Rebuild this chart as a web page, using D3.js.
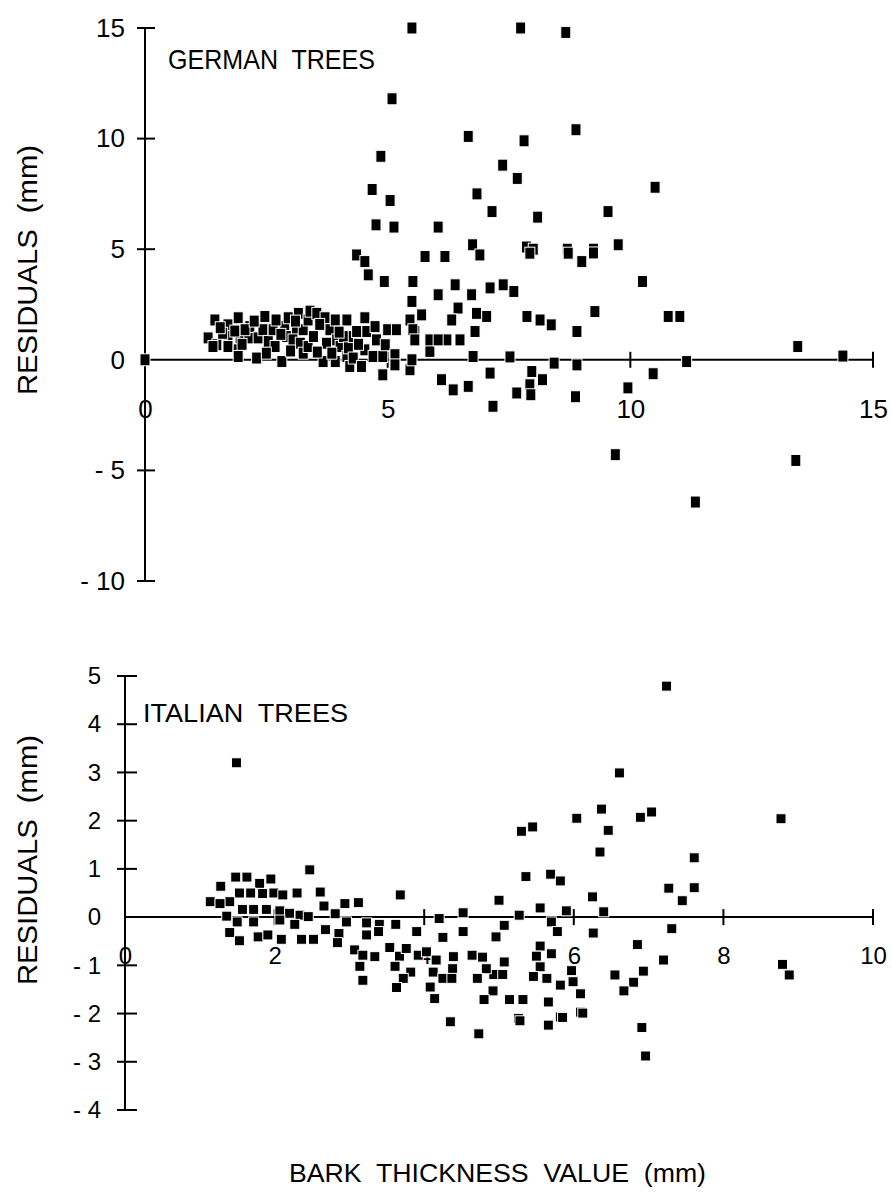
<!DOCTYPE html>
<html><head><meta charset="utf-8">
<script src="https://cdn.jsdelivr.net/npm/d3@7"></script>
<style>body{margin:0;background:#fff}</style>
</head><body>
<svg id="c" width="892" height="1195"></svg>
<script>
// ---------- DATA ----------
const germanPoints = [
  [0,0],
  [5.5,15.0],[7.74,15.0],[8.67,14.8],[5.09,11.8],[6.66,10.1],[7.81,9.9],[8.88,10.4],[4.86,9.2],[7.37,8.8],[7.67,8.2],
  [4.68,7.7],[5.05,7.2],[6.84,7.5],[10.51,7.8],[7.15,6.7],[9.54,6.7],[8.09,6.45],[4.76,6.1],[5.13,6.0],[6.04,6.0],
  [6.75,5.2],[7.86,5.1],[8.0,5.0],[8.7,5.0],[9.24,5.0],[9.75,5.2],
  [4.36,4.74],[4.53,4.44],[4.6,3.84],[4.93,3.54],[5.52,3.54],[5.77,4.67],[6.18,4.67],[6.9,4.74],[7.93,4.82],[8.72,4.82],[9.0,4.44],[9.24,4.83],
  [6.04,2.94],[6.39,3.39],[6.73,2.94],[7.11,3.25],[7.38,3.39],[7.6,3.09],[5.5,2.64],[5.7,2.03],[5.46,1.8],[6.45,2.34],[6.32,1.8],
  [6.83,2.1],[7.04,1.96],[6.8,1.28],[5.56,1.28],[6.22,0.9],[6.49,0.9],[5.87,0.38],[6.76,0.15],
  [7.87,1.96],[8.14,1.8],[8.37,1.58],[8.9,1.28],[9.27,2.18],[10.25,3.54],[10.78,1.96],[11.02,1.96],
  [7.52,0.13],[8.43,-0.15],[8.9,-0.23],[11.16,-0.08],[13.45,0.6],[14.38,0.17],
  [7.11,-0.6],[4.9,-0.68],[5.46,-0.45],[6.11,-0.9],[6.35,-1.36],[6.66,-1.2],[7.17,-2.1],[7.97,-0.53],[8.19,-0.9],[7.93,-1.13],
  [10.47,-0.63],[7.66,-1.5],[7.95,-1.58],[8.87,-1.67],[9.95,-1.27],[9.69,-4.29],[13.41,-4.55],[11.34,-6.43],
  [1.44,1.8],[1.3,0.99],[1.48,0.68],[1.4,0.6],[1.71,1.58],[1.71,1.05],[1.71,0.6],[1.92,1.9],[1.96,0.99],[1.92,0.45],[1.92,0.15],
  [2.14,0.99],[2.16,1.5],[2.06,1.36],[2.33,0.99],[2.3,0.08],[2.47,1.96],[2.43,1.36],[2.54,0.83],[2.68,0.6],[2.64,1.36],
  [2.88,1.5],[2.92,1.05],[2.82,-0.08],[3.16,2.1],[3.12,1.36],[3.05,0.9],[3.2,0.75],[3.26,1.36],[3.26,0.3],[3.36,1.8],[3.36,0.6],
  [3.4,2.2],[3.47,1.05],[3.54,2.1],[3.71,1.9],[3.81,1.36],[3.74,0.75],[3.67,-0.08],[3.92,1.8],[3.95,0.9],[3.92,-0.08],[4.02,0.6],
  [4.16,1.8],[4.09,1.05],[4.16,0.15],[4.19,0.54],[4.22,-0.3],[4.29,1.05],[4.29,0.08],[4.36,1.28],[4.46,-0.3],[4.53,1.9],[4.57,1.28],
  [4.53,0.45],[4.74,1.5],[4.77,0.9],[4.7,0.15],[4.9,0.15],[5.0,1.36],[4.95,0.68],[5.18,1.36],[5.15,0.23],[5.15,-0.23],
  [5.52,1.36],[5.56,0.9],[5.5,0.0],[5.87,0.9],[6.04,0.9],
  [1.6,1.2],[1.85,1.3],[2.7,1.8],[2.95,1.9],[3.0,0.4],[2.5,0.3],[3.55,0.35],[3.85,0.3],
  [1.55,1.45],[2.25,1.75],[2.8,1.15],[3.6,1.6],[4.0,1.25],[4.4,0.7],[2.0,0.7],[3.1,1.75]
];
const italianPoints = [
  [1.49,3.2],[7.24,4.79],[6.61,2.99],[6.37,2.24],[6.04,2.05],[6.89,2.07],[7.04,2.18],[6.46,1.8],[5.3,1.78],[5.45,1.87],[8.77,2.04],
  [6.35,1.35],[7.61,1.23],[5.36,0.84],[5.69,0.89],[5.82,0.75],[7.27,0.6],[7.61,0.61],[6.25,0.42],[7.45,0.34],[5.0,0.35],
  [5.27,0.04],[5.55,0.19],[5.9,0.13],[6.4,0.11],[5.7,-0.1],[5.07,-0.17],[5.78,-0.3],[6.26,-0.33],[7.31,-0.24],[4.96,-0.41],
  [6.85,-0.57],[5.55,-0.6],[5.7,-0.76],[5.5,-0.81],[4.78,-0.83],[5.07,-0.93],[7.2,-0.89],[5.97,-1.11],[5.55,-1.03],[4.93,-1.19],
  [5.05,-1.19],[5.46,-1.23],[5.64,-1.27],[5.99,-1.34],[6.55,-1.2],[6.93,-1.12],[6.8,-1.35],[6.67,-1.53],[5.82,-1.41],[8.79,-0.98],
  [8.88,-1.2],[4.92,-1.53],[4.8,-1.71],[5.14,-1.71],[5.32,-1.71],[5.66,-1.76],[6.09,-1.59],[6.09,-1.97],[5.82,-2.07],[5.26,-2.1],
  [4.35,-2.17],[4.73,-2.42],[5.28,-2.15],[5.66,-2.24],[5.85,-2.08],[6.12,-1.99],[6.91,-2.29],[6.96,-2.88],
  [2.47,0.98],[3.68,0.46],[1.48,0.83],[1.63,0.83],[1.95,0.79],[1.8,0.7],[1.28,0.64],[1.53,0.5],[1.68,0.5],[1.84,0.49],[1.99,0.5],
  [2.11,0.46],[2.3,0.5],[2.61,0.52],[3.12,0.3],[2.94,0.28],[1.14,0.32],[1.4,0.32],[1.27,0.28],[1.57,0.16],[1.72,0.16],[1.89,0.16],
  [2.07,0.13],[2.2,0.08],[2.34,0.04],[2.45,0.01],[2.66,0.23],[2.81,0.07],[1.36,0.02],[1.5,-0.1],[1.72,-0.1],[2.27,-0.15],[2.07,-0.06],
  [2.96,-0.1],[3.23,-0.12],[3.4,-0.15],[3.62,-0.15],[2.68,-0.26],[2.86,-0.34],[1.4,-0.32],[1.53,-0.49],[1.78,-0.41],[1.91,-0.37],
  [2.09,-0.46],[2.36,-0.46],[2.52,-0.46],[2.84,-0.53],[3.23,-0.37],[3.39,-0.3],[3.9,-0.3],[4.2,-0.03],[4.52,0.09],[4.52,-0.3],
  [4.25,-0.42],[3.07,-0.68],[3.18,-0.79],[3.34,-0.82],[3.54,-0.63],[3.67,-0.81],[3.76,-0.65],[3.92,-0.79],[4.03,-0.72],[4.16,-0.89],
  [4.39,-0.82],[4.64,-0.79],[3.14,-1.02],[3.18,-1.31],[3.61,-1.02],[3.82,-1.14],[3.72,-1.27],[4.12,-1.14],[4.38,-1.07],[4.25,-1.27],
  [4.37,-1.27],[4.83,-1.07],[4.71,-1.27],[3.63,-1.46],[4.08,-1.45],[4.14,-1.69]
];
const germanXTicks = [0,5,10,15];
const germanYTicks = [15,10,5,0,-5,-10];
const italianXTicks = [0,2,4,6,8,10];
const italianYTicks = [5,4,3,2,1,0,-1,-2,-3,-4];
const germanTitle = "GERMAN  TREES";
const italianTitle = "ITALIAN  TREES";
const yTitle = "RESIDUALS  (mm)";
const xTitle = "BARK  THICKNESS  VALUE  (mm)";

// ---------- DRAW ----------
const svg = d3.select("#c");
const FONT = "'Liberation Sans', Arial, sans-serif";
const fmt = v => v < 0 ? "- " + Math.abs(v) : String(v);

function panel(o){
  const x = d3.scaleLinear().domain(o.xd).range(o.xr);
  const y = d3.scaleLinear().domain(o.yd).range(o.yr);
  const g = svg.append("g");
  const ax = x(0), ay = y(0);
  g.append("line").attr("x1",ax).attr("x2",ax).attr("y1",y(o.yd[1])).attr("y2",y(o.yd[0]))
    .attr("stroke","#000").attr("stroke-width",2);
  g.append("line").attr("x1",ax).attr("x2",x(o.xd[1])).attr("y1",ay).attr("y2",ay)
    .attr("stroke","#000").attr("stroke-width",2);
  g.selectAll(".yt").data(o.yTicks.filter(v=>v!==0)).enter().append("line")
    .attr("x1",ax-o.tl).attr("x2",ax+o.tr).attr("y1",d=>y(d)).attr("y2",d=>y(d))
    .attr("stroke","#000").attr("stroke-width",2);
  g.selectAll(".xt").data(o.xTicks.filter(v=>v!==0)).enter().append("line")
    .attr("x1",d=>x(d)).attr("x2",d=>x(d)).attr("y1",ay-8).attr("y2",ay+8)
    .attr("stroke","#000").attr("stroke-width",2);
  const yA = g.append("g").attr("transform",`translate(${ax},0)`)
    .call(d3.axisLeft(y).tickValues(o.yTicks).tickSize(0).tickPadding(o.yPad).tickFormat(fmt));
  const xA = g.append("g").attr("transform",`translate(0,${ay})`)
    .call(d3.axisBottom(x).tickValues(o.xTicks).tickSize(0).tickPadding(o.xPad).tickFormat(fmt));
  [yA,xA].forEach(a=>{
    a.select(".domain").remove();
    a.selectAll("text").attr("font-family",FONT).attr("font-size",o.fs).attr("fill","#000");
  });
  g.selectAll("rect.p").data(o.points).enter().append("rect")
    .attr("x",d=>x(d[0])-o.mw/2).attr("y",d=>y(d[1])-o.mh/2)
    .attr("width",o.mw).attr("height",o.mh)
    .attr("fill","#000").attr("stroke","#fff").attr("stroke-width",1);
  g.append("text").attr("x",o.tx).attr("y",o.ty).text(o.title)
    .attr("font-family",FONT).attr("font-size",o.tfs)
    .attr("textLength",o.tlen).attr("lengthAdjust","spacingAndGlyphs").style("white-space","pre");
  g.append("text").attr("transform",`translate(${o.ytx},${o.ytc}) rotate(-90)`)
    .attr("text-anchor","middle").text(yTitle)
    .attr("font-family",FONT).attr("font-size",27)
    .attr("textLength",250).attr("lengthAdjust","spacingAndGlyphs").style("white-space","pre");
}

panel({xd:[0,15], xr:[145,873], yd:[-10,15], yr:[581,28],
  xTicks:germanXTicks, yTicks:germanYTicks, points:germanPoints,
  tl:8, tr:10, yPad:20, xPad:40, fs:26, mw:10, mh:12,
  title:germanTitle, tx:168, ty:69, tfs:28, tlen:207, ytx:37, ytc:270});

panel({xd:[0,10], xr:[125,873], yd:[-4,5], yr:[1110,676],
  xTicks:italianXTicks, yTicks:italianYTicks, points:italianPoints,
  tl:8, tr:12, yPad:24, xPad:30, fs:24, mw:10, mh:10,
  title:italianTitle, tx:143, ty:722, tfs:26, tlen:205, ytx:37, ytc:860});

svg.append("text").attr("x",289).attr("y",1182).text(xTitle)
  .attr("font-family",FONT).attr("font-size",26)
  .attr("textLength",417).attr("lengthAdjust","spacingAndGlyphs").style("white-space","pre");
</script>
</body></html>
